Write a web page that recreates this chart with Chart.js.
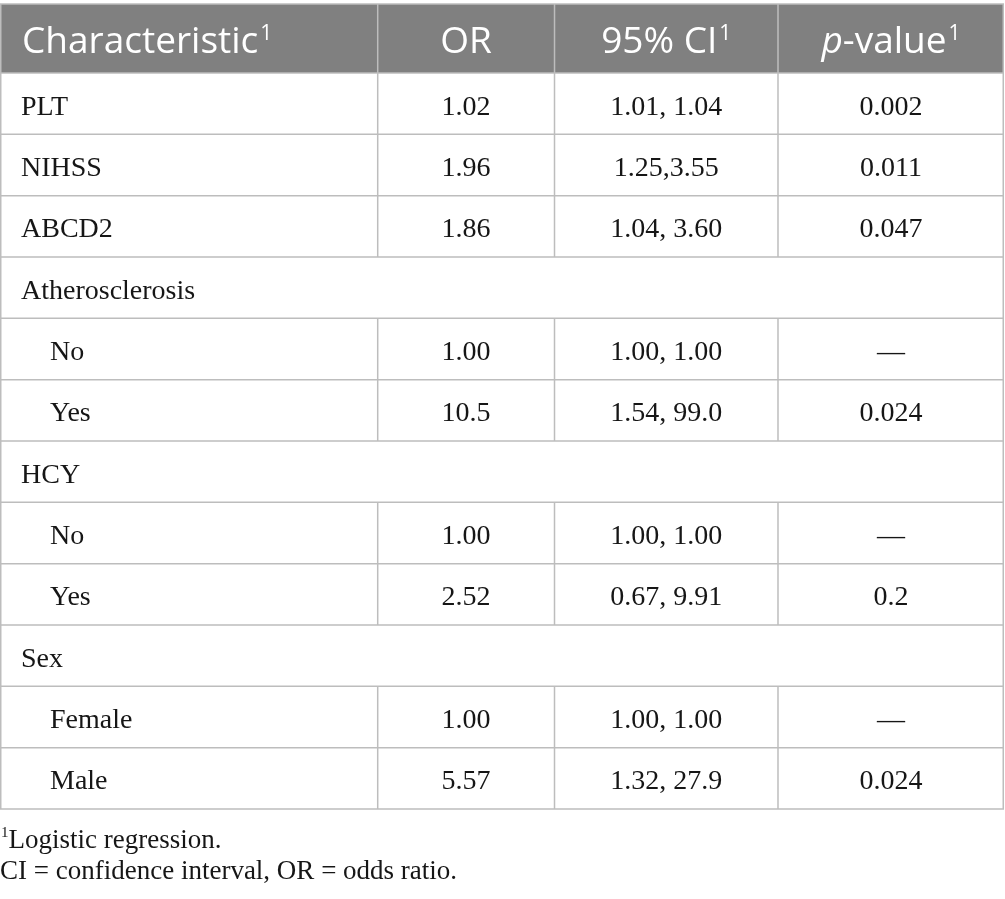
<!DOCTYPE html>
<html>
<head>
<meta charset="utf-8">
<script src="https://cdn.jsdelivr.net/npm/chart.js@4.4.1/dist/chart.umd.min.js"></script>
<style>
  html, body { margin: 0; padding: 0; background: #ffffff; }
  #wrap { width: 1005px; height: 899px; position: relative; }
  canvas { display: block; }
</style>
</head>
<body>
<div id="wrap"><canvas id="c" width="1005" height="899"></canvas></div>
<script>
// ---- Data ----
const headerLabels = ['Characteristic', 'OR', '95% CI', 'p-value'];
const headerSup = ['1', '', '1', '1'];
const characteristics = ['PLT', 'NIHSS', 'ABCD2', 'Atherosclerosis', 'No', 'Yes', 'HCY', 'No', 'Yes', 'Sex', 'Female', 'Male'];
const rowLevels = [0, 0, 0, 0, 1, 1, 0, 1, 1, 0, 1, 1];
const groupRows = [false, false, false, true, false, false, true, false, false, true, false, false];
const oddsRatios = ['1.02', '1.96', '1.86', '', '1.00', '10.5', '', '1.00', '2.52', '', '1.00', '5.57'];
const ciLabels = ['1.01, 1.04', '1.25,3.55', '1.04, 3.60', '', '1.00, 1.00', '1.54, 99.0', '', '1.00, 1.00', '0.67, 9.91', '', '1.00, 1.00', '1.32, 27.9'];
const pValues = ['0.002', '0.011', '0.047', '', '—', '0.024', '', '—', '0.2', '', '—', '0.024'];
const footnotes = [['1', 'Logistic regression.'], ['', 'CI = confidence interval, OR = odds ratio.']];

// ---- Layout / style ----
const colEdges = [0, 0.3762, 0.5523, 0.7749, 1];
const headerSpan = 1.125;
const headerBg = '#808080';
const lineColor = '#bdbdbd';
const textColor = '#161616';
const headFont = '"Open Sans", sans-serif';
const bodyFont = '"Liberation Serif", "Times New Roman", serif';

const tablePlugin = {
  id: 'tablePlugin',
  afterDatasetsDraw(chart) {
    const ctx = chart.ctx;
    const xs = chart.scales.x, ys = chart.scales.y;
    const X = v => xs.getPixelForValue(v);
    const Y = v => ys.getPixelForValue(v);
    const left = X(0), right = X(1);
    ctx.save();

    // header background
    const hTop = Y(-headerSpan), hBot = Y(0);
    ctx.fillStyle = headerBg;
    ctx.fillRect(left, hTop, right - left, hBot - hTop);

    // grid lines
    ctx.strokeStyle = lineColor;
    ctx.lineWidth = 1.5;
    const hline = (y) => { ctx.beginPath(); ctx.moveTo(left, y); ctx.lineTo(right, y); ctx.stroke(); };
    const vline = (x, y1, y2) => { ctx.beginPath(); ctx.moveTo(x, y1); ctx.lineTo(x, y2); ctx.stroke(); };
    hline(hTop);
    for (let i = 0; i <= characteristics.length; i++) hline(Y(i));
    vline(left + 0.75, hTop, Y(characteristics.length));
    vline(right - 0.75, hTop, Y(characteristics.length));
    for (let c = 1; c < colEdges.length - 1; c++) {
      vline(X(colEdges[c]), hTop, hBot);
      characteristics.forEach((_, i) => {
        if (!groupRows[i]) vline(X(colEdges[c]), Y(i), Y(i + 1));
      });
    }

    // header text
    const hBase = hTop + 49;
    ctx.fillStyle = '#ffffff';
    ctx.textBaseline = 'alphabetic';
    headerLabels.forEach((lab, c) => {
      const mainFont = '37px ' + headFont;
      const supFont = '21px ' + headFont;
      let parts = [];
      if (lab === 'p-value') {
        parts.push({ t: 'p', f: 'italic 37px ' + headFont, dy: 0 });
        parts.push({ t: '-value', f: mainFont, dy: 0 });
      } else {
        parts.push({ t: lab, f: mainFont, dy: 0 });
      }
      if (headerSup[c]) parts.push({ t: headerSup[c], f: supFont, dy: -13, pad: 2 });
      let total = 0;
      parts.forEach(p => { ctx.font = p.f; p.w = ctx.measureText(p.t).width; total += p.w + (p.pad || 0); });
      let x;
      if (c === 0) x = X(colEdges[0]) + 22;
      else x = (X(colEdges[c]) + X(colEdges[c + 1])) / 2 - total / 2;
      ctx.textAlign = 'left';
      parts.forEach(p => { x += (p.pad || 0); ctx.font = p.f; ctx.fillText(p.t, x, hBase + p.dy); x += p.w; });
    });

    // body text
    ctx.fillStyle = textColor;
    ctx.font = '28px ' + bodyFont;
    characteristics.forEach((name, i) => {
      const base = (Y(i) + Y(i + 1)) / 2 + 11;
      ctx.textAlign = 'left';
      ctx.fillText(name, X(colEdges[0]) + (rowLevels[i] ? 50 : 21), base);
      ctx.textAlign = 'center';
      [oddsRatios, ciLabels, pValues].forEach((arr, k) => {
        if (arr[i]) ctx.fillText(arr[i], (X(colEdges[k + 1]) + X(colEdges[k + 2])) / 2, base);
      });
    });

    // footnotes
    const fBase = Y(characteristics.length);
    ctx.textAlign = 'left';
    footnotes.forEach((fn, k) => {
      const base = fBase + 39 + k * 31;
      let x = left;
      if (fn[0]) {
        ctx.font = '15px ' + bodyFont;
        ctx.fillText(fn[0], x + 1, base - 11);
        x += ctx.measureText(fn[0]).width + 1;
      }
      ctx.font = '27px ' + bodyFont;
      ctx.fillText(fn[1], x, base);
    });
    ctx.restore();
  }
};

new Chart(document.getElementById('c'), {
  type: 'scatter',
  data: {
    datasets: [{
      data: characteristics.map((_, i) => ({ x: 0, y: i + 0.5 })),
      pointRadius: 0,
      pointHoverRadius: 0
    }]
  },
  options: {
    responsive: false,
    animation: false,
    devicePixelRatio: 1,
    layout: { padding: { left: 0, right: 1, top: 4, bottom: 90 } },
    plugins: { legend: { display: false }, tooltip: { enabled: false } },
    events: [],
    scales: {
      x: { type: 'linear', min: 0, max: 1, display: false },
      y: { type: 'linear', min: -headerSpan, max: characteristics.length, reverse: true, display: false }
    }
  },
  plugins: [tablePlugin]
});
</script>
</body>
</html>
